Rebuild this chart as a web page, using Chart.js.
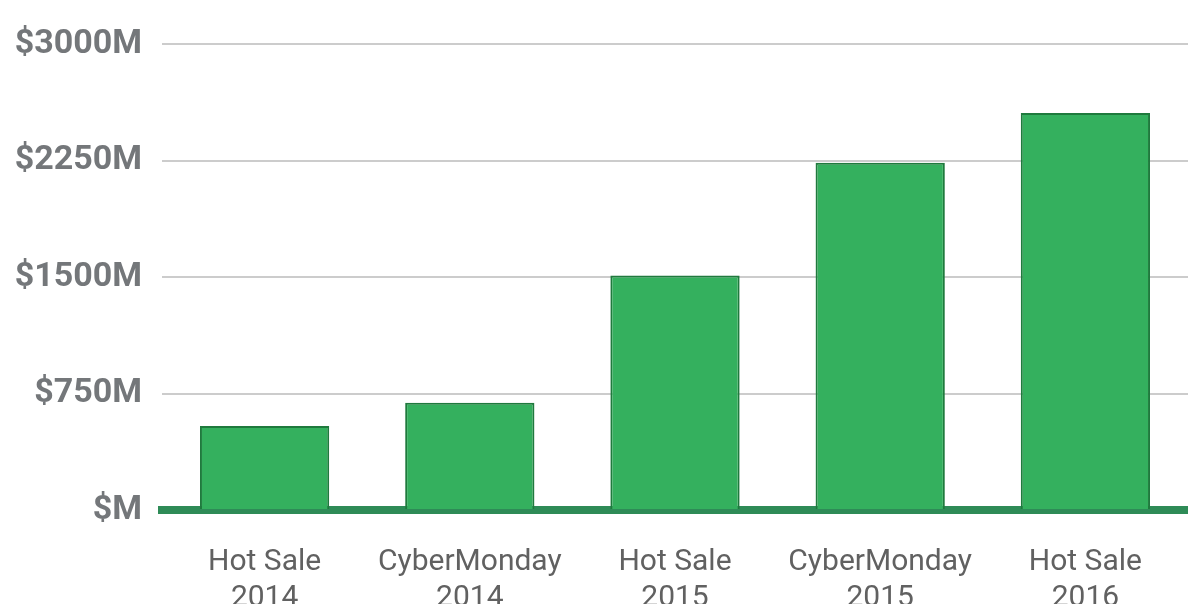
<!DOCTYPE html>
<html>
<head>
<meta charset="utf-8">
<script src="https://cdn.jsdelivr.net/npm/chart.js@4"></script>
<style>
    html, body { margin: 0; padding: 0; background: #ffffff; overflow: hidden; }
    #wrap { width: 1188px; height: 604px; }
</style>
</head>
<body>
<div id="wrap"><canvas id="salesChart"></canvas></div>
<script>
const categories = [["Hot Sale", "2014"], ["CyberMonday", "2014"], ["Hot Sale", "2015"], ["CyberMonday", "2015"], ["Hot Sale", "2016"]];
const sales = [540, 690, 1510, 2235, 2555];
const yTicks = [0, 750, 1500, 2250, 3000];

const ctx = document.getElementById("salesChart");

new Chart(ctx, {
    type: "bar",
    data: {
        labels: categories,
        datasets: [{
            label: "Ventas",
            data: sales,
            backgroundColor: "#34b05e",
            borderColor: "#1f7a3d",
            borderWidth: 2,
            barPercentage: 0.63,
            categoryPercentage: 1
        }]
    },
    options: {
        responsive: true,
        maintainAspectRatio: false,
        animation: false,
        layout: { padding: { top: 44, right: 0, left: 0, bottom: 0 } },
        plugins: {
            legend: { display: false },
            tooltip: { enabled: false }
        },
        scales: {
            x: {
                grid: { display: false },
                border: { color: "#2e8b57", width: 8 },
                ticks: {
                    color: "#616161",
                    font: { family: "Roboto", size: 30, lineHeight: 1.2 },
                    padding: 26,
                    maxRotation: 0
                },
                afterFit: s => { s.height = 94; }
            },
            y: {
                min: 0,
                max: 3000,
                afterBuildTicks: s => { s.ticks = yTicks.map(v => ({ value: v })); },
                grid: { color: "#cccccc", lineWidth: 2, drawTicks: false },
                border: { display: false },
                ticks: {
                    color: "#74777a",
                    font: { family: "Roboto", size: 34, weight: "bold" },
                    padding: 20,
                    callback: v => "$" + (v === 0 ? "" : v) + "M"
                },
                afterFit: s => { s.width = 162; }
            }
        }
    }
});
</script>
</body>
</html>
